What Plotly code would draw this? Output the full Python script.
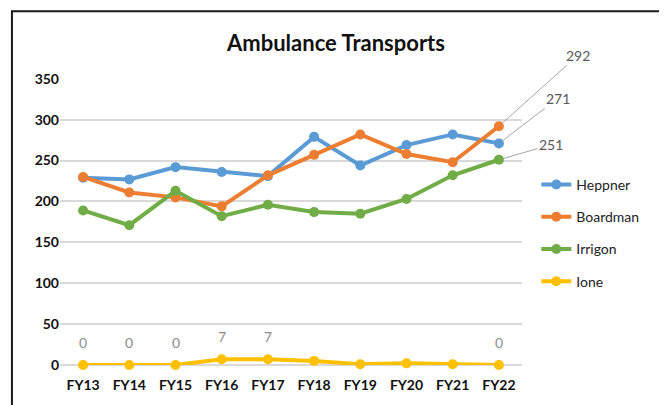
import plotly.graph_objects as go

categories = ["FY13", "FY14", "FY15", "FY16", "FY17", "FY18", "FY19", "FY20", "FY21", "FY22"]
heppner = [229, 227, 242, 236, 231, 279, 244, 269, 282, 271]
boardman = [230, 211, 205, 194, 232, 257, 282, 258, 248, 292]
irrigon = [189, 171, 213, 182, 196, 187, 185, 203, 232, 251]
ione = [0, 0, 0, 7, 7, 5, 1, 2, 1, 0]
ione_labels = ["0", "0", "0", "7", "7", "", "", "", "", "0"]

series = [
    ("Heppner", heppner, "#5B9BD5"),
    ("Boardman", boardman, "#ED7D31"),
    ("Irrigon", irrigon, "#70AD47"),
    ("Ione", ione, "#FFC000"),
]

FONT = "Lato, 'Open Sans', sans-serif"

fig = go.Figure()
for i, (name, vals, color) in enumerate(series):
    fig.add_trace(go.Scatter(
        x=categories, y=vals, name=name, mode="lines+markers",
        line=dict(color=color, width=4),
        marker=dict(color=color, size=10),
        legendgroup=name, cliponaxis=False,
    ))

# Ione value labels
for cat, v, lab in zip(categories, ione, ione_labels):
    if lab:
        fig.add_annotation(x=cat, y=v, text=lab, showarrow=False, yshift=23,
                           font=dict(family=FONT, size=14, color="#8c8c8c"))

# End labels with leader lines
end_labels = [(boardman[-1], 79, -71), (heppner[-1], 59, -45), (irrigon[-1], 52, -15)]
for v, ax, ay in end_labels:
    fig.add_annotation(x=categories[-1], y=v, text=str(v), showarrow=True,
                       arrowhead=0, arrowwidth=1, arrowcolor="#a6a6a6",
                       ax=ax, ay=ay, standoff=4,
                       font=dict(family=FONT, size=14, color="#595959"))

# chart border
fig.add_shape(type="rect", xref="paper", yref="paper",
              x0=-0.104, x1=1.312, y0=-0.2, y1=1.233,
              line=dict(color="#1a1a1a", width=2), layer="above")

fig.update_layout(
    width=659, height=397,
    margin=dict(l=52, r=145, t=70, b=40),
    paper_bgcolor="white", plot_bgcolor="white",
    title=dict(text="<b>Ambulance Transports</b>", x=328 / 659, xanchor="center",
               y=1 - 35 / 397, yanchor="middle",
               font=dict(family=FONT, size=22, color="#111111")),
    legend=dict(x=1.031, y=0.683, xanchor="left", yanchor="top",
                font=dict(family=FONT, size=14, color="#222222"),
                tracegroupgap=11, itemwidth=30, bgcolor="rgba(0,0,0,0)"),
    showlegend=True,
)
fig.update_xaxes(type="category", range=[-0.5, 9.5], showgrid=False, zeroline=False,
                 showline=False, ticks="", ticklabelstandoff=10,
                 tickfont=dict(family=FONT, size=14, color="#111111", weight="bold"))
fig.update_yaxes(range=[0, 351], tickvals=[0, 50, 100, 150, 200, 250, 300, 350],
                 showgrid=True, gridcolor="#D9D9D9", gridwidth=1.5,
                 zeroline=True, zerolinecolor="#D9D9D9", zerolinewidth=1.5,
                 showline=False, ticks="", ticklen=0,
                 tickfont=dict(family=FONT, size=14, color="#111111", weight="bold"))

fig.write_html("out.html")
